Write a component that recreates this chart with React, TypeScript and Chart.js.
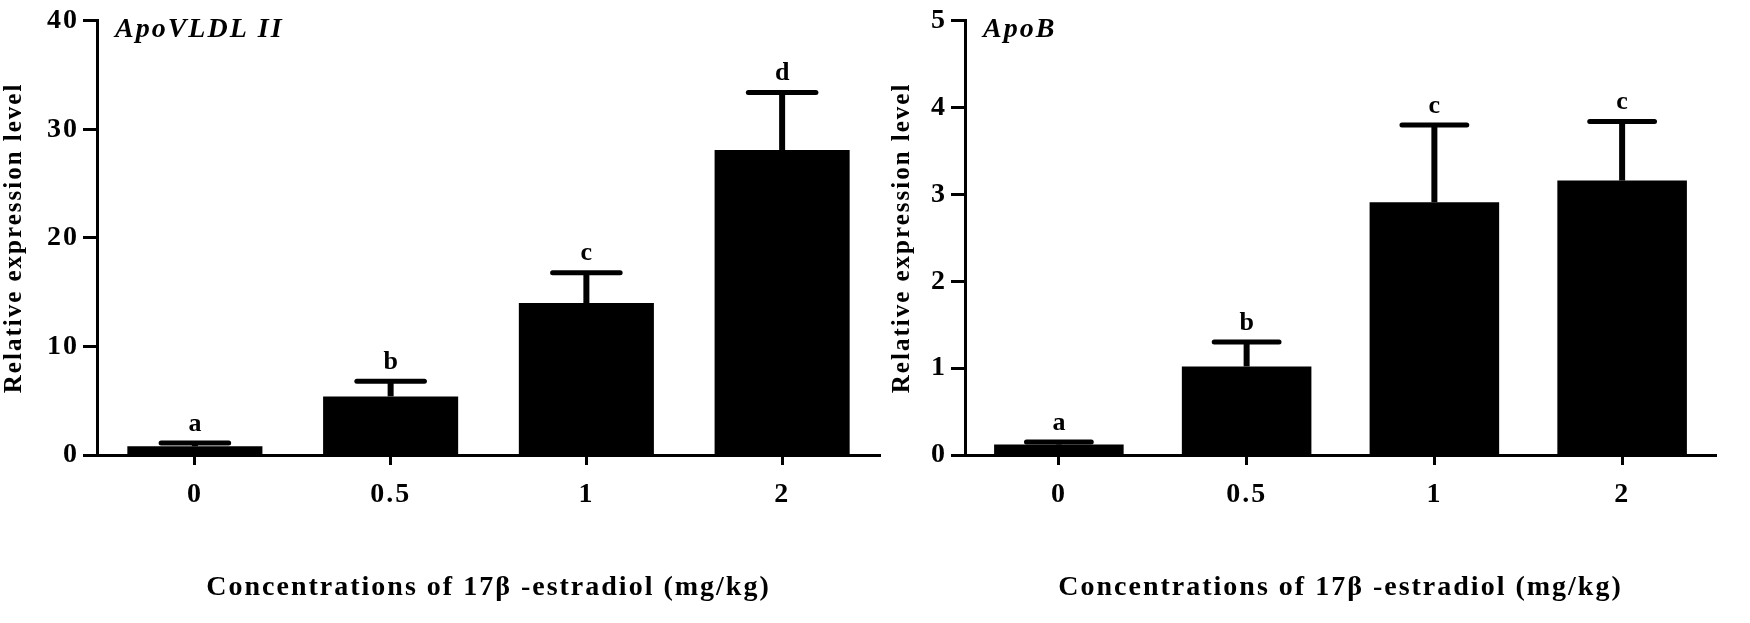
import React, { useEffect, useRef } from 'react';
import { Chart, registerables } from 'chart.js';

Chart.register(...registerables);

const categories = ['0', '0.5', '1', '2'];

const apoVldlTitle = 'ApoVLDL II';
const apoVldlMeans = [0.8, 5.4, 14.0, 28.1];
const apoVldlErrors = [0.3, 1.4, 2.8, 5.3];
const apoVldlLetters = ['a', 'b', 'c', 'd'];
const apoVldlMax = 40;
const apoVldlStep = 10;

const apoBTitle = 'ApoB';
const apoBMeans = [0.12, 1.02, 2.91, 3.16];
const apoBErrors = [0.03, 0.28, 0.89, 0.68];
const apoBLetters = ['a', 'b', 'c', 'c'];
const apoBMax = 5;
const apoBStep = 1;

const yTitle = 'Relative expression level';
const xTitle = 'Concentrations of 17β -estradiol (mg/kg)';

const FONT = '"Liberation Serif", "Times New Roman", serif';

type PanelProps = {
  title: string;
  means: number[];
  errors: number[];
  letters: string[];
  max: number;
  step: number;
  left: number;
  width: number;
  yAxisWidth: number;
  rightPad: number;
  yTitlePad: number;
};

const spacingPlugin = {
  id: 'letterSpacing',
  beforeDraw(chart: any) {
    (chart.ctx as any).letterSpacing = '2px';
  },
};

const errorBarPlugin = {
  id: 'errorBars',
  afterDatasetsDraw(chart: any, _args: any, opts: any) {
    const ctx = chart.ctx;
    const meta = chart.getDatasetMeta(0);
    const yScale = chart.scales.y;
    const { means, errors, letters, title } = opts;
    ctx.save();
    meta.data.forEach((el: any, i: number) => {
      const x = el.x;
      const w = el.width;
      const yTop = yScale.getPixelForValue(means[i] + errors[i]);
      const yBar = el.y;
      ctx.strokeStyle = '#000';
      ctx.lineCap = 'butt';
      ctx.lineWidth = 6;
      ctx.beginPath();
      ctx.moveTo(x, yBar);
      ctx.lineTo(x, yTop);
      ctx.stroke();
      ctx.lineWidth = 5;
      ctx.lineCap = 'round';
      ctx.beginPath();
      ctx.moveTo(x - w / 4, yTop);
      ctx.lineTo(x + w / 4, yTop);
      ctx.stroke();
      ctx.fillStyle = '#000';
      ctx.font = `bold 26px ${FONT}`;
      ctx.textAlign = 'center';
      ctx.textBaseline = 'bottom';
      ctx.fillText(letters[i], x + 1, yTop - 6);
    });
    const area = chart.chartArea;
    ctx.font = `italic bold 28px ${FONT}`;
    ctx.textAlign = 'left';
    ctx.textBaseline = 'middle';
    ctx.fillText(title, area.left + 18, area.top + 9);
    ctx.restore();
  },
};

function Panel(p: PanelProps) {
  const ref = useRef<HTMLCanvasElement>(null);
  useEffect(() => {
    if (!ref.current) return;
    const chart = new Chart(ref.current, {
      type: 'bar',
      data: {
        labels: categories,
        datasets: [
          {
            data: p.means,
            backgroundColor: '#000',
            borderWidth: 0,
            categoryPercentage: 1,
            barPercentage: 0.69,
          },
        ],
      },
      plugins: [spacingPlugin, errorBarPlugin],
      options: {
        animation: false,
        responsive: false,
        devicePixelRatio: 1,
        layout: { padding: { top: 17, right: p.rightPad, bottom: 0, left: 0 } },
        plugins: {
          legend: { display: false },
          tooltip: { enabled: false },
          errorBars: { means: p.means, errors: p.errors, letters: p.letters, title: p.title },
        } as any,
        scales: {
          x: {
            offset: true,
            grid: {
              offset: false,
              drawOnChartArea: false,
              drawTicks: true,
              tickLength: 10,
              tickWidth: 3,
              color: '#000',
            },
            border: { display: true, color: '#000', width: 3 },
            ticks: {
              color: '#000',
              padding: 13,
              font: { family: FONT, size: 28, weight: 'bold' },
            },
            title: {
              display: true,
              text: xTitle,
              color: '#000',
              padding: { top: 0, bottom: 18 },
              font: { family: FONT, size: 28, weight: 'bold' },
            },
            afterFit(scale: any) {
              scale.height = 168;
            },
          },
          y: {
            min: 0,
            max: p.max,
            grid: {
              drawOnChartArea: false,
              drawTicks: true,
              tickLength: 14,
              tickWidth: 3,
              color: '#000',
            },
            border: { display: true, color: '#000', width: 3 },
            ticks: {
              stepSize: p.step,
              color: '#000',
              padding: 4,
              font: { family: FONT, size: 28, weight: 'bold' },
            },
            title: {
              display: true,
              text: yTitle,
              color: '#000',
              padding: { top: p.yTitlePad, bottom: 0 },
              font: { family: FONT, size: 25, weight: 'bold' },
            },
            afterFit(scale: any) {
              scale.width = p.yAxisWidth;
            },
          },
        },
      } as any,
    });
    return () => chart.destroy();
  }, []);
  return (
    <div style={{ position: 'absolute', left: p.left, top: 0, width: p.width, height: 623 }}>
      <canvas ref={ref} width={p.width} height={623} style={{ width: p.width, height: 623 }} />
    </div>
  );
}

export default function App() {
  return (
    <div style={{ position: 'absolute', left: 0, top: 0, width: 1750, height: 623, background: '#fff' }}>
      <Panel
        title={apoVldlTitle}
        means={apoVldlMeans}
        errors={apoVldlErrors}
        letters={apoVldlLetters}
        max={apoVldlMax}
        step={apoVldlStep}
        left={0}
        width={885}
        yAxisWidth={97}
        rightPad={5}
        yTitlePad={0}
      />
      <Panel
        title={apoBTitle}
        means={apoBMeans}
        errors={apoBErrors}
        letters={apoBLetters}
        max={apoBMax}
        step={apoBStep}
        left={885}
        width={865}
        yAxisWidth={80}
        rightPad={34}
        yTitlePad={3}
      />
    </div>
  );
}
